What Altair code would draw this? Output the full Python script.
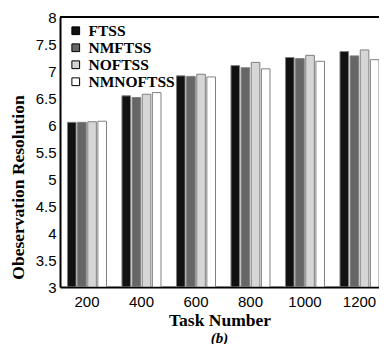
import altair as alt
import pandas as pd

tasks = ["200", "400", "600", "800", "1000", "1200"]
methods = ["FTSS", "NMFTSS", "NOFTSS", "NMNOFTSS"]
ftss = [6.05, 6.54, 6.91, 7.10, 7.25, 7.36]
nmftss = [6.05, 6.51, 6.90, 7.06, 7.23, 7.28]
noftss = [6.06, 6.57, 6.94, 7.16, 7.29, 7.39]
nmnoftss = [6.07, 6.60, 6.89, 7.04, 7.18, 7.21]
colors = ["#111111", "#666666", "#d6d6d6", "#ffffff"]
yticks = [3, 3.5, 4, 4.5, 5, 5.5, 6, 6.5, 7, 7.5, 8]

rows = []
for m, vals in zip(methods, [ftss, nmftss, noftss, nmnoftss]):
    for t, v in zip(tasks, vals):
        rows.append({"task": t, "method": m, "value": v})
df = pd.DataFrame(rows)

serif = "Liberation Serif"
sans = "Liberation Sans"

yscale = alt.Scale(domain=[3, 8], nice=False, zero=False)
yaxis = alt.Axis(title="Obeservation Resolution", values=yticks,
                 format="~g", labelFont=sans, labelFontSize=15, labelColor="black",
                 labelOverlap=False, labelFlush=False,
                 ticks=False, labelPadding=4, grid=False,
                 titleFont=serif, titleFontSize=17.5, titleFontWeight="bold",
                 titleColor="black", titleAngle=270, titleX=-42, titleY=170,
                 titleAlign="center", titleBaseline="middle",
                 domainColor="black", domainWidth=2)

bars = alt.Chart(df).mark_bar(stroke="#808080", strokeWidth=1, clip=True).encode(
    x=alt.X("task:N", sort=tasks,
            scale=alt.Scale(paddingInner=0.284, paddingOuter=0.0685, align=1),
            axis=alt.Axis(title="Task Number", labelAngle=0, labelFont=sans, labelFontSize=15,
                          labelColor="black", ticks=False, labelPadding=7,
                          titleFont=serif, titleFontSize=17.5, titleFontWeight="bold",
                          titleColor="black", titlePadding=2, domainColor="black", domainWidth=2)),
    xOffset=alt.XOffset("method:N", sort=methods,
                        scale=alt.Scale(paddingInner=0.15, paddingOuter=0)),
    y=alt.Y("value:Q", scale=yscale, axis=yaxis, title="Obeservation Resolution"),
    y2=alt.datum(3),
    color=alt.Color("method:N", sort=methods,
                    scale=alt.Scale(domain=methods, range=colors),
                    legend=alt.Legend(title=None, orient="none", legendX=8, legendY=6,
                                      symbolType="square", symbolSize=60,
                                      symbolStrokeColor="black", symbolStrokeWidth=1,
                                      labelFont=serif, labelFontSize=15.5, labelFontWeight="bold",
                                      labelColor="black", labelOffset=5, rowPadding=-0.8,
                                      padding=0)),
)

top_rule = alt.Chart(pd.DataFrame({"v": [8]})).mark_rule(color="black", strokeWidth=2).encode(
    y=alt.Y("v:Q", scale=yscale, axis=yaxis, title="Obeservation Resolution")
)

chart = alt.layer(bars, top_rule).properties(
    width=319, height=270,
    autosize=alt.AutoSizeParams(type="none"),
    padding={"left": 52, "top": 9, "right": 0, "bottom": 57},
    title=alt.TitleParams(text="(b)", orient="bottom", anchor="middle", font=serif,
                          fontSize=15, fontWeight="bold", fontStyle="italic", color="black",
                          offset=2),
).configure_view(stroke=None).configure(background="white")

chart.save("out.html", embed_options={"renderer": "svg", "actions": False})
